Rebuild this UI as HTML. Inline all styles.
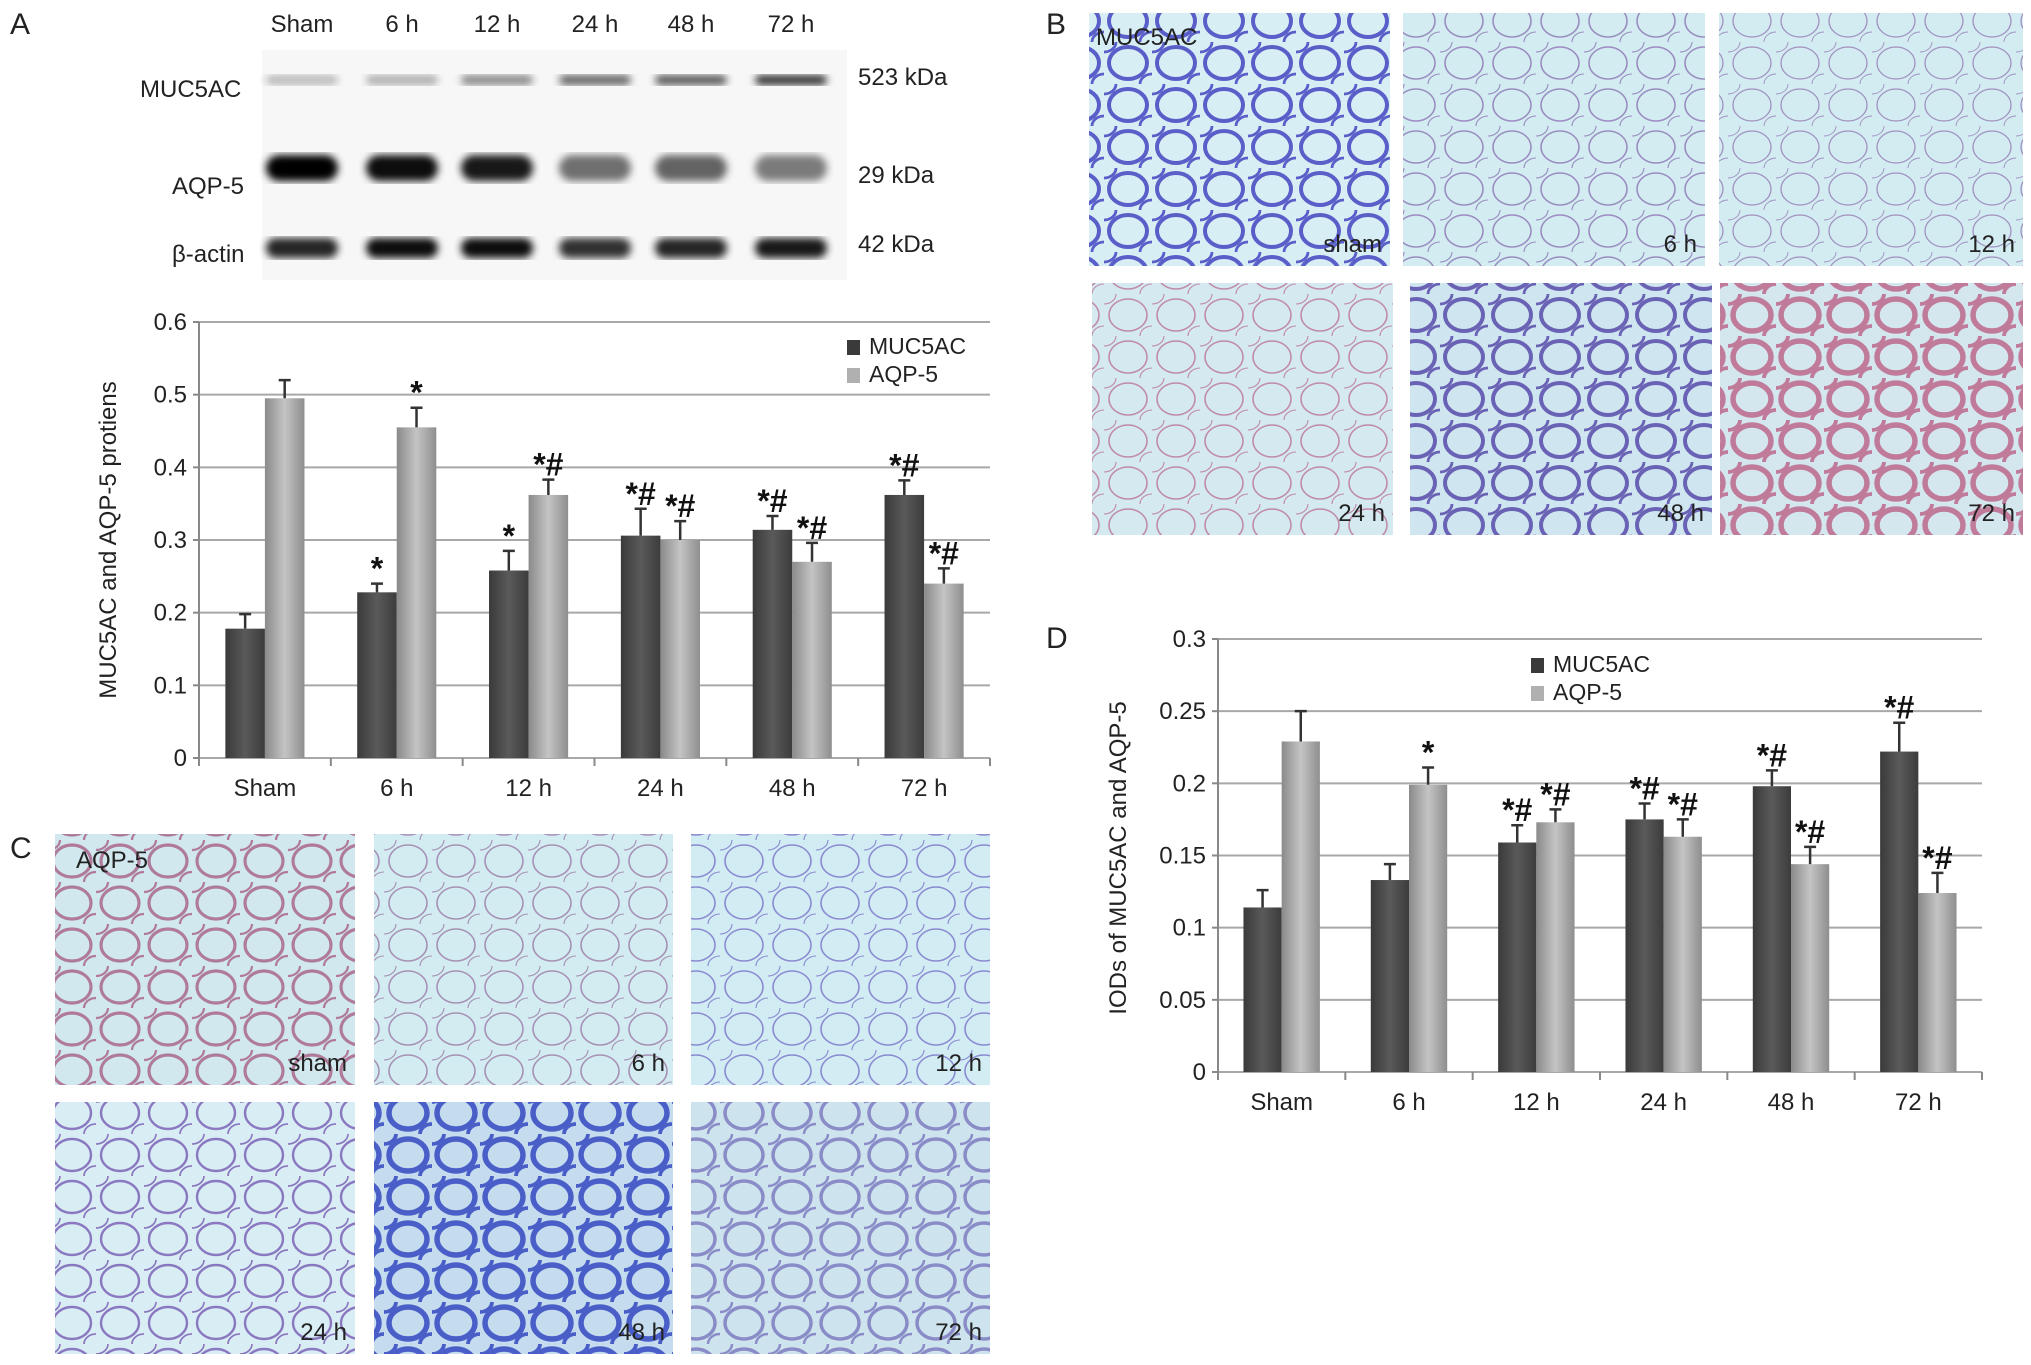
<!DOCTYPE html>
<html><head><meta charset="utf-8"><style>
html,body{margin:0;padding:0;background:#fff;}
svg{display:block;font-family:"Liberation Sans",Arial,sans-serif;}
</style></head><body>
<svg id="fig" width="2031" height="1365" viewBox="0 0 2031 1365" xmlns="http://www.w3.org/2000/svg">
<defs>
<linearGradient id="gDark" x1="0" x2="1"><stop offset="0" stop-color="#3a3a3a"/><stop offset="0.5" stop-color="#5a5a5a"/><stop offset="1" stop-color="#3c3c3c"/></linearGradient>
<linearGradient id="gLight" x1="0" x2="1"><stop offset="0" stop-color="#8a8a8a"/><stop offset="0.5" stop-color="#c4c4c4"/><stop offset="1" stop-color="#8e8e8e"/></linearGradient>
<filter id="blur"><feGaussianBlur stdDeviation="4"/></filter>
</defs>
<g id="panels"></g>
<g id="blot"></g>
<g id="chartA"></g>
<g id="chartD"></g>
</svg>
<script>
var NS='http://www.w3.org/2000/svg';
var categories=['Sham','6 h','12 h','24 h','48 h','72 h'];
var aMuc=[0.178,0.228,0.258,0.306,0.314,0.362];
var aMucErr=[0.020,0.012,0.027,0.037,0.019,0.020];
var aAqp=[0.495,0.455,0.362,0.300,0.270,0.240];
var aAqpErr=[0.025,0.027,0.021,0.026,0.026,0.021];
var aMucSig=['','*','*','*#','*#','*#'];
var aAqpSig=['','*','*#','*#','*#','*#'];
var aTicks=['0','0.1','0.2','0.3','0.4','0.5','0.6'];
var dMuc=[0.114,0.133,0.159,0.175,0.198,0.222];
var dMucErr=[0.012,0.011,0.012,0.011,0.011,0.020];
var dAqp=[0.229,0.199,0.173,0.163,0.144,0.124];
var dAqpErr=[0.021,0.012,0.009,0.012,0.012,0.014];
var dMucSig=['','','*#','*#','*#','*#'];
var dAqpSig=['','*','*#','*#','*#','*#'];
var dTicks=['0','0.05','0.1','0.15','0.2','0.25','0.3'];
var blotMuc=[0.25,0.3,0.45,0.6,0.65,0.8];
var blotAqp=[1,0.95,0.9,0.55,0.6,0.5];
var blotActin=[0.85,0.95,0.95,0.8,0.85,0.9];

function mk(tag,attrs,parent){var e=document.createElementNS(NS,tag);for(var k in attrs)e.setAttribute(k,attrs[k]);parent.appendChild(e);return e;}
function txt(parent,x,y,s,size,anchor,extra){var t=mk('text',{x:x,y:y,'font-size':size,'text-anchor':anchor||'start',fill:'#222'},parent);if(extra)for(var k in extra)t.setAttribute(k,extra[k]);t.textContent=s;return t;}

var svg=document.getElementById('fig');
[['A',10,34],['B',1046,34],['C',10,858],['D',1046,648]].forEach(function(p){var t=txt(svg,p[1],p[2],p[0],30);});

var panels=document.getElementById('panels');
var tiles=[
['b-sham',1089,13,301,253,'#d6eef4','#5a5ec8',4,'sham'],
['b-6h',1403,13,302,253,'#d2ecf2','#9a8cc0',1.6,'6 h'],
['b-12h',1719,13,304,253,'#d2ecf2','#a090c0',1.3,'12 h'],
['b-24h',1092,283,301,252,'#d4eaf0','#c08aa8',1.6,'24 h'],
['b-48h',1410,283,302,252,'#cfe6f0','#6a62b4',4,'48 h'],
['b-72h',1720,283,303,252,'#d4e6ee','#c07a9a',5.5,'72 h'],
['c-sham',55,834,300,251,'#d0e8ee','#b07a9a',3.2,'sham'],
['c-6h',374,834,299,251,'#d2ecf2','#a690b4',1.6,'6 h'],
['c-12h',691,834,299,251,'#d2ecf4','#8a8ad0',1.6,'12 h'],
['c-24h',55,1102,300,252,'#d8eef4','#8a78c0',2.4,'24 h'],
['c-48h',374,1102,299,252,'#c4dcee','#4a5ec8',5.5,'48 h'],
['c-72h',691,1102,299,252,'#cde4ee','#8a8cc8',3.5,'72 h']];
tiles.forEach(function(t,i){
  var g=mk('g',{},panels);
  
  
  var pid='pat'+i;
  var pat=mk('pattern',{id:pid,width:48,height:42,patternUnits:'userSpaceOnUse'},svg.querySelector('defs'));
  mk('rect',{width:48,height:42,fill:t[5]},pat);
  mk('ellipse',{cx:24,cy:21,rx:19,ry:16,fill:'none',stroke:t[6],'stroke-width':t[7]},pat);
  mk('ellipse',{cx:0,cy:0,rx:12,ry:10,fill:'none',stroke:t[6],'stroke-width':t[7]*0.7},pat);
  mk('ellipse',{cx:48,cy:42,rx:12,ry:10,fill:'none',stroke:t[6],'stroke-width':t[7]*0.7},pat);
  mk('rect',{x:t[1],y:t[2],width:t[3],height:t[4],fill:'url(#'+pid+')'},g);
  var l=txt(g,t[1]+t[3]-8,t[2]+t[4]-14,t[8],24,'end');
  
  
});
var m1=txt(svg,1096,45,'MUC5AC',24);
var m2=txt(svg,76,868,'AQP-5',24);

var blot=document.getElementById('blot');
mk('rect',{x:262,y:50,width:585,height:230,fill:'#f7f7f7'},blot);
var laneX=[302,402,497,595,691,791];
categories.forEach(function(c,i){var t=txt(blot,laneX[i],32,c,24,'middle');});
[['MUC5AC',140,97],['AQP-5',172,194],['β-actin',172,262]].forEach(function(p){var t=txt(blot,p[1],p[2],p[0],24);});
[['523 kDa',858,85],['29 kDa',858,183],['42 kDa',858,252]].forEach(function(p){var t=txt(blot,p[1],p[2],p[0],24);});
function band(arr,y,h,name){arr.forEach(function(v,i){var b=mk('rect',{x:laneX[i]-36,y:y-h/2,width:72,height:h,rx:h/2,fill:'#000','fill-opacity':v,filter:'url(#blur)'},blot);});}
band(blotMuc,80,10,'muc5ac-band');band(blotAqp,168,26,'aqp5-band');band(blotActin,248,20,'actin-band');

function chart(gid,x0,y0,x1,y1,ymax,ticks,mucV,mucE,aqpV,aqpE,mucS,aqpS,ytitle,ytx,yty,legX,legY){
  var g=document.getElementById(gid);
  var groupW=(x1-x0)/categories.length, barW=groupW*0.3;
  function Y(v){return y0-(v/ymax)*(y0-y1);}
  ticks.forEach(function(t,i){var v=parseFloat(t);var y=Y(v);
    var gl=mk('line',{x1:x0,y1:y,x2:x1,y2:y,stroke:'#a8a8a8','stroke-width':2},g);
    mk('line',{x1:x0-6,y1:y,x2:x0,y2:y,stroke:'#888','stroke-width':2},g);
    var tl=txt(g,x0-12,y+8,t,24,'end');});
  mk('line',{x1:x0,y1:y1,x2:x0,y2:y0,stroke:'#888','stroke-width':2},g);
  for(var i=0;i<=categories.length;i++){mk('line',{x1:x0+i*groupW,y1:y0,x2:x0+i*groupW,y2:y0+8,stroke:'#888','stroke-width':2},g);}
  categories.forEach(function(c,i){
    var cx=x0+groupW*(i+0.5);
    var xl=txt(g,cx,y0+38,c,24,'middle');
    [[mucV,mucE,mucS,'url(#gDark)',cx-barW,'muc5ac'],[aqpV,aqpE,aqpS,'url(#gLight)',cx,'aqp5']].forEach(function(s){
      var v=s[0][i],e=s[1][i],bx=s[4];
      var r=mk('rect',{x:bx,y:Y(v),width:barW,height:y0-Y(v),fill:s[3]},g);
      
      var mx=bx+barW/2;
      var eb=mk('path',{d:'M'+mx+','+Y(v)+'V'+Y(v+e)+'M'+(mx-6)+','+Y(v+e)+'H'+(mx+6),stroke:'#333','stroke-width':2.5,fill:'none'},g);
      
      if(s[2][i]){var st=txt(g,mx,Y(v+e)-4,s[2][i],32,'middle',{'font-weight':'bold',fill:'#111'});}
    });
  });
  var yt=txt(g,0,0,ytitle,24,'middle',{transform:'translate('+ytx+','+yty+') rotate(-90)'});
  
  [['MUC5AC','#3a3a3a'],['AQP-5','#b0b0b0']].forEach(function(l,k){
    var le=mk('g',{},g);
    mk('rect',{x:legX,y:legY+k*28-14,width:13,height:15,fill:l[1]},le);
    txt(le,legX+22,legY+k*28,l[0],23);
  });
}
chart('chartA',199,758,990,322,0.6,aTicks,aMuc,aMucErr,aAqp,aAqpErr,aMucSig,aAqpSig,'MUC5AC and AQP-5 protiens',116,540,847,354);
chart('chartD',1218,1072,1982,639,0.3,dTicks,dMuc,dMucErr,dAqp,dAqpErr,dMucSig,dAqpSig,'IODs of MUC5AC and AQP-5',1126,858,1531,672);
</script>
</body></html>
